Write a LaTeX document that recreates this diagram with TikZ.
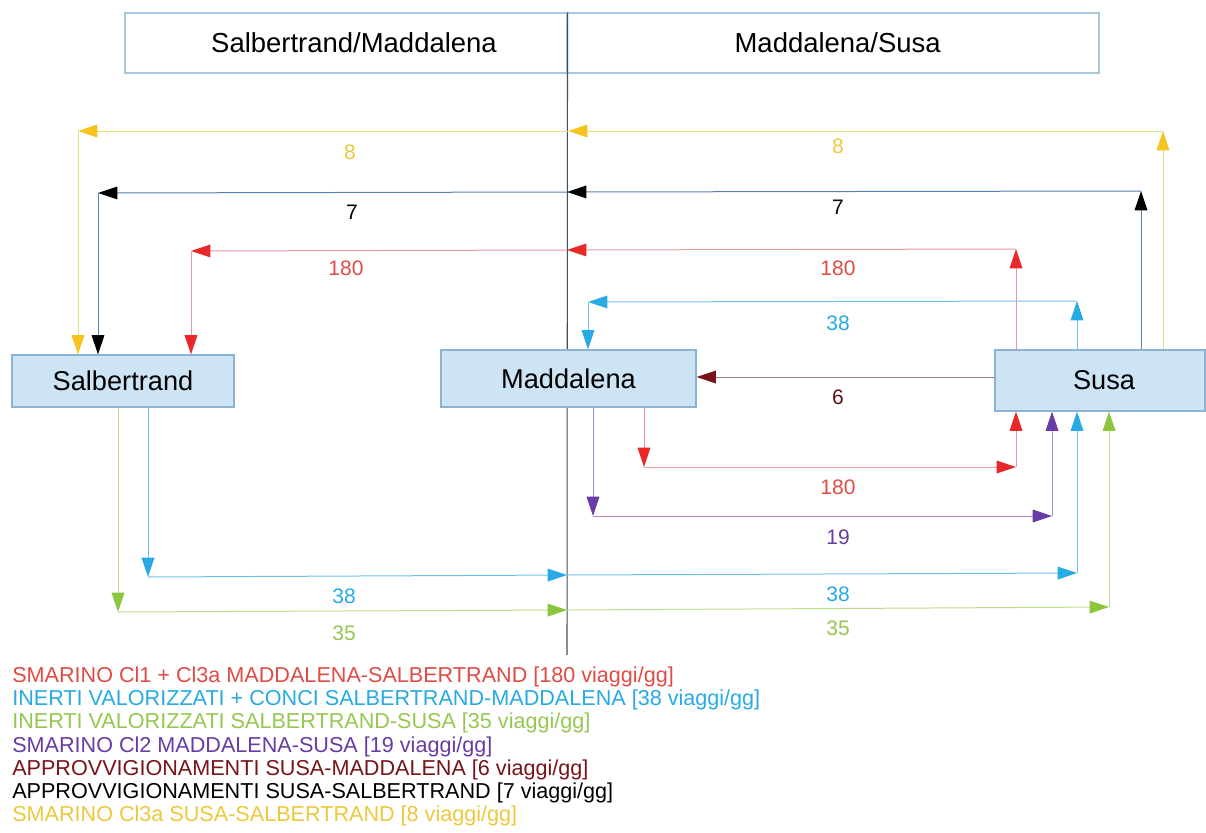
\documentclass[tikz,border=0pt]{standalone}
\usepackage{fontspec}
\setmainfont{Liberation Sans}
\usetikzlibrary{arrows.meta}
\definecolor{cYel}{RGB}{245,196,30}
\definecolor{cYelL}{RGB}{222,226,130}
\definecolor{cYelT}{RGB}{238,200,60}
\definecolor{cBlkL}{RGB}{85,130,175}
\definecolor{cRed}{RGB}{232,40,40}
\definecolor{cRedL}{RGB}{236,150,160}
\definecolor{cRedT}{RGB}{225,75,70}
\definecolor{cCyn}{RGB}{40,170,228}
\definecolor{cCynL}{RGB}{110,195,235}
\definecolor{cGrn}{RGB}{140,198,63}
\definecolor{cGrnL}{RGB}{190,222,140}
\definecolor{cGrnT}{RGB}{150,200,80}
\definecolor{cPur}{RGB}{105,60,165}
\definecolor{cPurL}{RGB}{175,135,210}
\definecolor{cDrd}{RGB}{120,20,25}
\definecolor{cDrdL}{RGB}{160,115,135}
\definecolor{boxfill}{RGB}{204,228,244}
\definecolor{boxdraw}{RGB}{140,180,210}
\definecolor{hdrdraw}{RGB}{170,200,220}
\definecolor{divider}{RGB}{60,80,100}
\begin{document}
\begin{tikzpicture}[x=0.75pt,y=-0.75pt,
  site/.style={draw=boxdraw, fill=boxfill, line width=0.8pt, inner sep=0pt, font=\fontsize{20.4}{24}\selectfont},
  hdr/.style={draw=hdrdraw, line width=0.8pt, inner sep=0pt, minimum height=45pt, font=\fontsize{20.6}{24}\selectfont},
  lbl/.style={font=\fontsize{15.75}{18}\selectfont, inner sep=0pt},
  leg/.style={font=\fontsize{16.2}{18}\selectfont, inner sep=0pt, anchor=base west},
  route/.style={line width=0.75pt},
  ylw/.style={route, draw=cYelL, -{Triangle[length=14.5pt,width=9.5pt,color=cYel]}},
  blk/.style={route, draw=cBlkL, -{Triangle[length=14.5pt,width=9.5pt,color=black]}},
  rd/.style={route, draw=cRedL, -{Triangle[length=14.5pt,width=9.5pt,color=cRed]}},
  cyn/.style={route, draw=cCynL, -{Triangle[length=14.5pt,width=9.5pt,color=cCyn]}},
  grn/.style={route, draw=cGrnL, -{Triangle[length=14.5pt,width=9.5pt,color=cGrn]}},
  pur/.style={route, draw=cPurL, -{Triangle[length=14.5pt,width=9.5pt,color=cPur]}},
  drd/.style={route, draw=cDrdL, -{Triangle[length=14.5pt,width=9.5pt,color=cDrd]}}]
\fill[white] (0,0) rectangle (1206,832);
\useasboundingbox (0,0) rectangle (1206,832);

% header
\node[hdr, minimum width=331.5pt] (hL) at (346,43) {\hspace*{12pt}Salbertrand/Maddalena};
\node[hdr, minimum width=399pt] (hR) at (833,43) {\hspace*{7pt}Maddalena/Susa};
\coordinate (divEnd) at (567,655);
\draw[divider, line width=0.8pt] (hL.north east) -- (divEnd);

% sites
\node[site, minimum width=166.5pt, minimum height=39pt] (salb) at (123,381) {Salbertrand};
\node[site, minimum width=191.25pt, minimum height=42.75pt] (madd) at (568.5,378.5) {Maddalena};
\node[site, minimum width=157.5pt, minimum height=45.75pt] (susa) at (1100,380.5) {\hspace*{6pt}Susa};

% yellow 8
\coordinate (y1) at (1163,131);
\coordinate (y2) at (568,131);
\coordinate (y3) at (78,131);
\draw[ylw] (y1 |- susa.north) -- (y1);
\draw[ylw] (y1) -- (y2);
\draw[ylw] (y2) -- (y3);
\draw[ylw] (y3) -- (y3 |- salb.north);

% black 7
\coordinate (k1) at (1141,191);
\coordinate (k2) at (567,192);
\coordinate (k3) at (98,193);
\draw[blk] (k1 |- susa.north) -- (k1);
\draw[blk] (k1) -- (k2);
\draw[blk] (k2) -- (k3);
\draw[blk] (k3) -- (k3 |- salb.north);

% red 180 top
\coordinate (r1) at (1016,249);
\coordinate (r2) at (567,250);
\coordinate (r3) at (191,251);
\draw[rd] (r1 |- susa.north) -- (r1);
\draw[rd] (r1) -- (r2);
\draw[rd] (r2) -- (r3);
\draw[rd] (r3) -- (r3 |- salb.north);

% red 180 bottom
\coordinate (rb1) at (644,467);
\coordinate (rb2) at (1016,467);
\draw[rd] (rb1 |- madd.south) -- (rb1);
\draw[rd] (rb1) -- (rb2);
\draw[rd] (rb2) -- (rb2 |- susa.south);

% purple 19
\coordinate (p1) at (593,516);
\coordinate (p2) at (1052,516);
\draw[pur] (p1 |- madd.south) -- (p1);
\draw[pur] (p1) -- (p2);
\draw[pur] (p2) -- (p2 |- susa.south);

% cyan 38 top
\coordinate (ct1) at (1077,301);
\coordinate (ct2) at (588,302);
\draw[cyn] (ct1 |- susa.north) -- (ct1);
\draw[cyn] (ct1) -- (ct2);
\draw[cyn] (ct2) -- (ct2 |- madd.north);

% cyan 38 bottom
\coordinate (c1) at (148,577);
\coordinate (c2) at (567,575);
\coordinate (c3) at (1077,573);
\draw[cyn] (c1 |- salb.south) -- (c1);
\draw[cyn] (c1) -- (c2);
\draw[cyn] (c2) -- (c3);
\draw[cyn] (c3) -- (c3 |- susa.south);

% green 35
\coordinate (g1) at (118,612);
\coordinate (g2) at (567,610);
\coordinate (g3) at (1109,607);
\draw[grn] (g1 |- salb.south) -- (g1);
\draw[grn] (g1) -- (g2);
\draw[grn] (g2) -- (g3);
\draw[grn] (g3) -- (g3 |- susa.south);

% dark red 6
\coordinate (dY) at (800,377);
\draw[drd] (dY -| susa.west) -- (dY -| madd.east);

% labels
\node[lbl, text=cYelT] (l8a) at (350,152) {8};
\node[lbl, text=cYelT] (l8b) at (838,146) {8};
\node[lbl, text=black] (l7a) at (352,212) {7};
\node[lbl, text=black] (l7b) at (838,207) {7};
\node[lbl, text=cRedT] (l180a) at (346,268) {180};
\node[lbl, text=cRedT] (l180b) at (838,268) {180};
\node[lbl, text=cCyn] (l38a) at (838,323) {38};
\node[lbl, text=cDrd!80!black] (l6) at (838,397) {6};
\node[lbl, text=cRedT] (l180c) at (838,487) {180};
\node[lbl, text=cPur] (l19) at (838,537) {19};
\node[lbl, text=cCyn] (l38b) at (344,596) {38};
\node[lbl, text=cCyn] (l38c) at (838,594) {38};
\node[lbl, text=cGrnT] (l35a) at (344,633) {35};
\node[lbl, text=cGrnT] (l35b) at (838,628) {35};

% legend
\node[leg, text=cRedT] (lg1) at (12,682) {SMARINO Cl1 + Cl3a MADDALENA-SALBERTRAND [180 viaggi/gg]};
\node[leg, text=cCyn] (lg2) at (12,705) {INERTI VALORIZZATI + CONCI SALBERTRAND-MADDALENA [38 viaggi/gg]};
\node[leg, text=cGrnT] (lg3) at (12,728) {INERTI VALORIZZATI SALBERTRAND-SUSA [35 viaggi/gg]};
\node[leg, text=cPur] (lg4) at (12,752) {SMARINO Cl2 MADDALENA-SUSA [19 viaggi/gg]};
\node[leg, text=cDrd] (lg5) at (12,775) {APPROVVIGIONAMENTI SUSA-MADDALENA [6 viaggi/gg]};
\node[leg, text=black] (lg6) at (12,798) {APPROVVIGIONAMENTI SUSA-SALBERTRAND [7 viaggi/gg]};
\node[leg, text=cYelT] (lg7) at (12,821) {SMARINO Cl3a SUSA-SALBERTRAND [8 viaggi/gg]};
\end{tikzpicture}
\end{document}
